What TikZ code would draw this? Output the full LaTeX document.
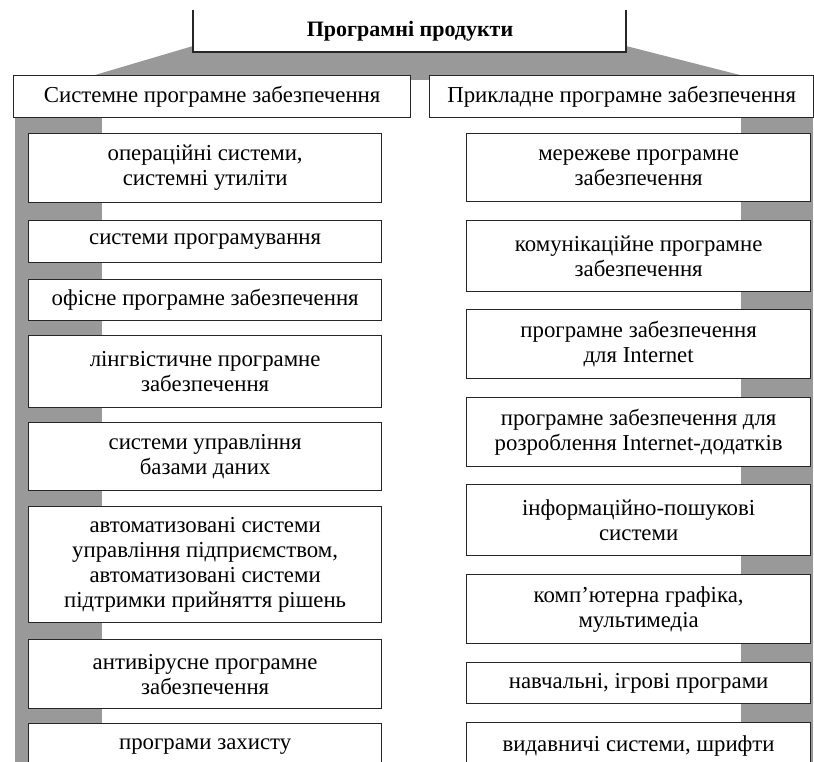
\documentclass[tikz,border=0pt]{standalone}
\usepackage{fontspec}
\setmainfont{Liberation Serif}
\usepackage{xcolor}
\usetikzlibrary{positioning}

\tikzset{
  band/.style={fill=black!40},
  frame/.style={draw=black!85, line width=1.3pt},
  sbox/.style={frame, fill=white, align=center, inner sep=0pt, anchor=north west,
    font=\fontsize{22.8}{25}\selectfont},
  lbox/.style={sbox, minimum width=353},
  rbox/.style={sbox, minimum width=344},
}

\begin{document}
\begin{tikzpicture}[x=1pt, y=-1pt]
  \useasboundingbox (0,0) rectangle (814,762);
  \clip (0,0) rectangle (814,762);

  % grey bands behind the boxes
  \fill[band] (193,46) -- (626,46) -- (740,75) -- (95,75) -- cycle;
  \fill[band] (408,74) rectangle (431,80);
  \fill[band] (15,117) rectangle (102,770);
  \fill[band] (741,117) rectangle (813,770);

  % top box
  \fill[white] (193,0) rectangle (626,52);
  \draw[frame] (193,10) -- (193,52) -- (626,52) -- (626,10);
  \node[font=\fontsize{22}{24}\selectfont\bfseries] (title) at (410,31) {Програмні продукти};

  % second level
  \node[sbox, minimum width=397, minimum height=42] (sys) at (13,75) {Системне програмне забезпечення};
  \node[sbox, minimum width=384, minimum height=42] (app) at (429,75) {Прикладне програмне забезпечення};

  % left column
  \node[lbox, minimum height=69] (sys1) at (28,133) {операційні системи,\\системні утиліти};
  \node[lbox, minimum height=42] (sys2) at (28,220) {системи програмування};
  \node[lbox, minimum height=41] (sys3) at (28,279) {офісне програмне забезпечення};
  \node[lbox, minimum height=72] (sys4) at (28,335) {лінгвістичне програмне\\забезпечення};
  \node[lbox, minimum height=68] (sys5) at (28,422) {системи управління\\базами даних};
  \node[lbox, minimum height=116] (sys6) at (28,506) {автоматизовані системи\\управління підприємством,\\автоматизовані системи\\підтримки прийняття рішень};
  \node[lbox, minimum height=69] (sys7) at (28,639) {антивірусне програмне\\забезпечення};
  \node[lbox, minimum height=46] (sys8) at (28,723) {програми захисту};

  % right column
  \node[rbox, minimum height=68] (app1) at (466,133) {мережеве програмне\\забезпечення};
  \node[rbox, minimum height=71] (app2) at (466,220) {комунікаційне програмне\\забезпечення};
  \node[rbox, minimum height=69] (app3) at (466,309) {програмне забезпечення\\для Internet};
  \node[rbox, minimum height=69] (app4) at (466,397) {програмне забезпечення для\\розроблення Internet-додатків};
  \node[rbox, minimum height=71] (app5) at (466,484) {інформаційно-пошукові\\системи};
  \node[rbox, minimum height=69] (app6) at (466,574) {комп’ютерна графіка,\\мультимедіа};
  \node[rbox, minimum height=41] (app7) at (466,662) {навчальні, ігрові програми};
  \node[rbox, minimum height=46] (app8) at (466,722) {видавничі системи, шрифти};
\end{tikzpicture}
\end{document}
